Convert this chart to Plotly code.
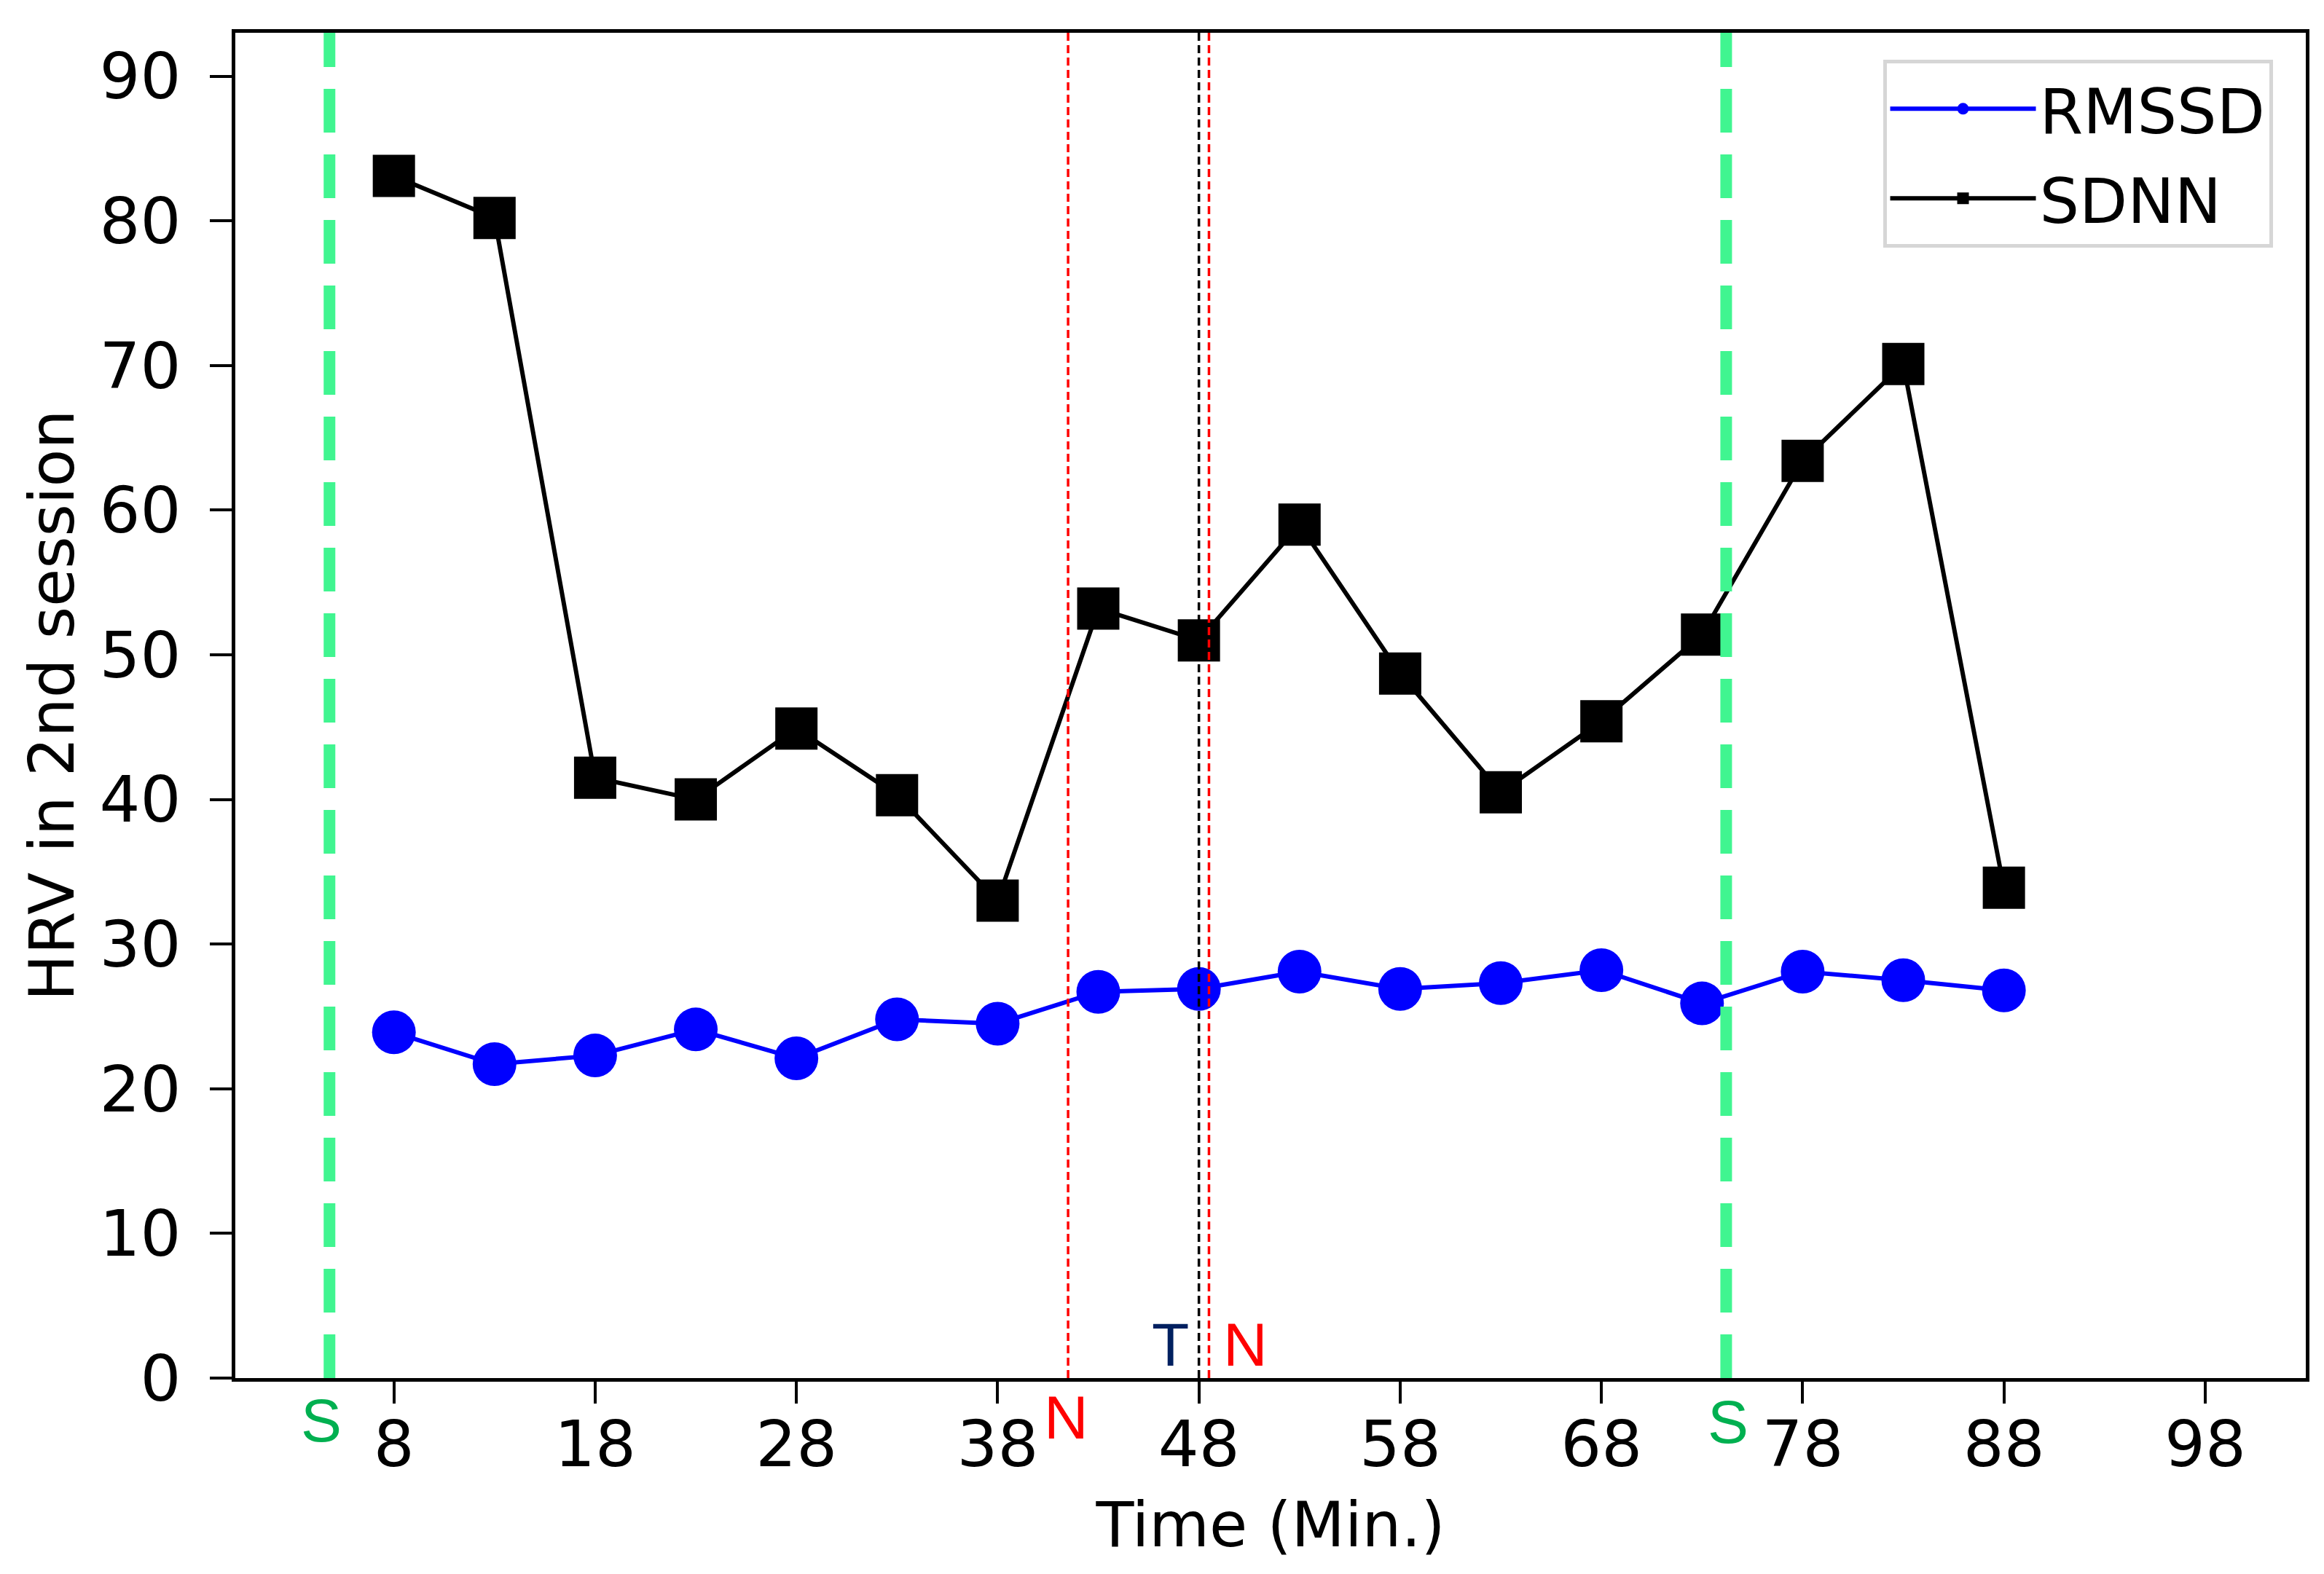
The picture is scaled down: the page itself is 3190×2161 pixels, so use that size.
import plotly.graph_objects as go

# ---- data ----
time_min = [8, 13, 18, 23, 28, 33, 38, 43, 48, 53, 58, 63, 68, 73, 78, 83, 88]
rmssd = [23.9, 21.7, 22.3, 24.1, 22.1, 24.8, 24.5, 26.7, 26.9, 28.1, 26.9, 27.3, 28.2, 25.9, 28.1, 27.5, 26.8]
sdnn = [83.1, 80.2, 41.5, 40.0, 44.9, 40.3, 33.0, 53.2, 51.0, 59.0, 48.7, 40.5, 45.4, 51.4, 63.4, 70.1, 33.9]

x_ticks = [8, 18, 28, 38, 48, 58, 68, 78, 88, 98]
y_ticks = [0, 10, 20, 30, 40, 50, 60, 70, 80, 90]

session_lines = [4.8, 74.2]      # green "S"
n_lines = [41.5, 48.5]           # red "N"
t_lines = [48.0]                 # black "T"

label_text = ["S", "S", "N", "T", "N"]
label_x = [4.4, 74.3, 41.4, 46.6, 50.3]
label_y = [-2.9, -3.0, -2.7, 2.3, 2.3]
label_color = ["#00B050", "#00B050", "#FF0000", "#002060", "#FF0000"]

X_RANGE = [0.12, 103.0]
Y_RANGE = [0, 93.0]

FONT = "DejaVu Sans"
FS = 88
FS_TITLE = 85

fig = go.Figure()
fig.add_trace(go.Scatter(
    x=time_min, y=rmssd, mode="lines+markers", name="RMSSD", legendgroup="a",
    line=dict(color="#0000FF", width=6),
    marker=dict(symbol="circle", size=60, color="#0000FF"),
))
fig.add_trace(go.Scatter(
    x=time_min, y=sdnn, mode="lines+markers", name="SDNN", legendgroup="b",
    line=dict(color="#000000", width=6),
    marker=dict(symbol="square", size=58, color="#000000"),
))

for xv in session_lines:
    fig.add_shape(type="line", xref="x", yref="paper", x0=xv, x1=xv, y0=0, y1=1,
                  line=dict(color="#40F590", width=16, dash="60px,30px"), layer="above")
for xv in n_lines:
    fig.add_shape(type="line", xref="x", yref="paper", x0=xv, x1=xv, y0=0, y1=1,
                  line=dict(color="#FF0000", width=3.5, dash="11px,6px"), layer="above")
for xv in t_lines:
    fig.add_shape(type="line", xref="x", yref="paper", x0=xv, x1=xv, y0=0, y1=1,
                  line=dict(color="#000000", width=3.5, dash="11px,6px"), layer="above")

ySpan = Y_RANGE[1] - Y_RANGE[0]
for t, xv, yv, c in zip(label_text, label_x, label_y, label_color):
    fig.add_annotation(x=xv, y=(yv - Y_RANGE[0]) / ySpan, xref="x", yref="paper",
                       text=t, showarrow=False,
                       font=dict(family="Liberation Sans", size=84, color=c),
                       xanchor="center", yanchor="middle")

axis_common = dict(
    showline=True, linecolor="black", linewidth=5, mirror=True,
    ticks="outside", ticklen=30, tickwidth=4, tickcolor="black",
    showgrid=False, zeroline=False,
    tickfont=dict(family=FONT, size=FS, color="black"),
)

fig.update_layout(
    width=3190, height=2161,
    margin=dict(l=315, r=33, t=37, b=277),
    paper_bgcolor="white", plot_bgcolor="white",
    font=dict(family=FONT, size=FS, color="black"),
    xaxis=dict(range=X_RANGE, tickmode="array", tickvals=x_ticks,
               ticktext=[str(v) for v in x_ticks], ticklabelstandoff=-20,
               title=dict(text="Time (Min.)", font=dict(family=FONT, size=FS_TITLE), standoff=32),
               **axis_common),
    yaxis=dict(range=Y_RANGE, tickmode="array", tickvals=y_ticks,
               ticktext=[str(v) for v in y_ticks], ticklabelstandoff=22,
               title=dict(text="HRV in 2nd session", font=dict(family=FONT, size=FS_TITLE), standoff=8),
               **axis_common),
    legend=dict(x=0.984, y=0.98, xanchor="right", yanchor="top",
                bgcolor="white", bordercolor="#D6D6D6", borderwidth=5,
                font=dict(family=FONT, size=86), itemwidth=200,
                tracegroupgap=8),
    showlegend=True,
)

fig.write_html("out.html")
